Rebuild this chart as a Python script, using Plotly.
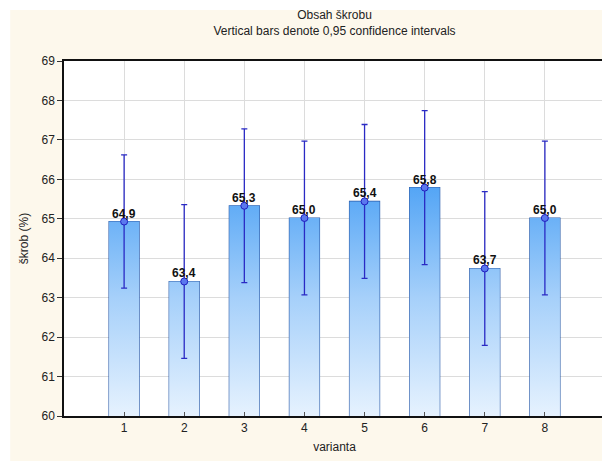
import plotly.graph_objects as go

categories = [1, 2, 3, 4, 5, 6, 7, 8]
means = [64.93, 63.41, 65.33, 65.02, 65.44, 65.79, 63.74, 65.02]
ci_half = [1.69, 1.95, 1.95, 1.95, 1.95, 1.95, 1.95, 1.95]
y_ticks = [60, 61, 62, 63, 64, 65, 66, 67, 68, 69]

title_text = "Obsah škrobu<br>Vertical bars denote 0,95 confidence intervals"
x_title = "varianta"
y_title = "škrob (%)"

FONT = "Liberation Sans, Arial, sans-serif"
BASE = 60
BAR_W = 0.5

fig = go.Figure()

# gradient fill for each bar (derived from data)
for c, m in zip(categories, means):
    fig.add_trace(go.Scatter(
        x=[c - BAR_W / 2, c - BAR_W / 2, c + BAR_W / 2, c + BAR_W / 2, c - BAR_W / 2],
        y=[BASE, m, m, BASE, BASE],
        mode="lines", fill="toself", line=dict(width=0, color="rgba(0,0,0,0)"),
        fillgradient=dict(type="vertical", start=60, stop=66,
                          colorscale=[[0, "#e6f2fe"], [0.5, "#a6d0fa"], [1, "#4ea2f5"]]),
        hoverinfo="skip", showlegend=False))

# bar outlines
fig.add_trace(go.Bar(
    x=categories, y=means, width=BAR_W,
    marker=dict(color="rgba(0,0,0,0)", line=dict(color="#2a5aa8", width=1.2)),
    showlegend=False, hoverinfo="skip"))

labels = [f"{m:.1f}".replace(".", ",") for m in means]

fig.add_trace(go.Scatter(
    x=categories, y=means, mode="markers",
    marker=dict(symbol="circle", size=7, color="#5a78ee", line=dict(color="#2020c0", width=1)),
    error_y=dict(type="data", array=ci_half, visible=True, color="#2a2ac4", thickness=1.3, width=3),
    showlegend=False))

annotations = [
    dict(x=c, y=m, text=t, xref="x", yref="y", showarrow=False,
         xanchor="center", yanchor="bottom", yshift=-1,
         font=dict(family=FONT, size=12, color="#111111", weight="bold"))
    for c, m, t in zip(categories, means, labels)
]

fig.update_layout(
    width=610, height=461,
    margin=dict(l=56, r=11, t=53, b=53),
    paper_bgcolor="white",
    plot_bgcolor="white",
    barmode="overlay",
    title=dict(text=title_text, x=0.5, xref="paper", xanchor="center",
               y=0.976, yref="container", yanchor="top",
               font=dict(family=FONT, size=12, color="#222222")),
    font=dict(family=FONT, size=12, color="#222222"),
    annotations=annotations,
    shapes=[
        dict(type="rect", xref="paper", yref="paper", x0=-0.0994, x1=1.03, y0=-0.16, y1=1.1437,
             fillcolor="#fdf8ec", line=dict(width=0), layer="below"),
        dict(type="rect", xref="paper", yref="paper", x0=0, x1=1, y0=0, y1=1,
             fillcolor="white", line=dict(width=0), layer="below"),
    ],
    xaxis=dict(range=[0, 9], tickvals=categories, ticktext=[str(c) for c in categories],
               showgrid=True, gridcolor="#dcdcdc", gridwidth=1, zeroline=False,
               showline=True, linecolor="#111111", linewidth=1.5, mirror=True,
               ticks="inside", ticklen=4, tickcolor="#555555",
               title=dict(text=x_title, standoff=8, font=dict(family=FONT, size=12, color="#222222")),
               tickfont=dict(family=FONT, size=12, color="#222222")),
    yaxis=dict(range=[60, 69], tickvals=y_ticks,
               showgrid=True, gridcolor="#dcdcdc", gridwidth=1, zeroline=False,
               showline=True, linecolor="#111111", linewidth=1.5, mirror=True,
               ticks="outside", ticklen=5, tickcolor="#333333",
               title=dict(text=y_title, standoff=10, font=dict(family=FONT, size=12, color="#222222")),
               tickfont=dict(family=FONT, size=12, color="#222222")),
)

fig.write_html("out.html")
